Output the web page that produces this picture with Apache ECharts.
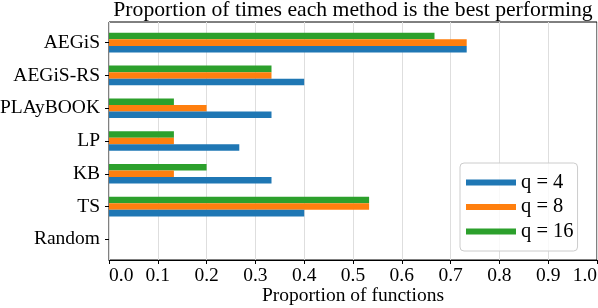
<!DOCTYPE html>
<html>
<head>
<meta charset="utf-8">
<script src="https://cdn.jsdelivr.net/npm/echarts@6/dist/echarts.min.js"></script>
<style>html,body{margin:0;padding:0;background:#fff}#c{width:598px;height:308px}</style>
</head>
<body>
<div id="c"></div>
<script>
const categories = ['AEGiS', 'AEGiS-RS', 'PLAyBOOK', 'LP', 'KB', 'TS', 'Random'];
const q4 = [0.733, 0.4, 0.333, 0.267, 0.333, 0.4, 0];
const q8 = [0.733, 0.333, 0.2, 0.133, 0.133, 0.533, 0];
const q16 = [0.667, 0.333, 0.133, 0.133, 0.2, 0.533, 0];
const seriesNames = ['q = 4', 'q = 8', 'q = 16'];
const xTicks = [0, 0.1, 0.2, 0.3, 0.4, 0.5, 0.6, 0.7, 0.8, 0.9, 1.0];

const FONT = '"Liberation Serif", "DejaVu Serif", serif';
const colors = ['#1f77b4', '#ff7f0e', '#2ca02c'];
const chart = echarts.init(document.getElementById('c'), null, {renderer: 'canvas'});

const L = 109, T = 22, W = 488, H = 238;
const band = H / 7.26;
const innerH = band * 7;
const innerT = T + (H - innerH) / 2;

const allData = [q4, q8, q16];
// draw order top-to-bottom inside each group: q16, q8, q4
const drawOrder = [2, 1, 0];

chart.setOption({
  animation: false,
  backgroundColor: '#fff',
  title: {
    text: 'Proportion of times each method is the best performing',
    left: L + W / 2, top: 0, padding: 0, textAlign: 'center',
    textStyle: {fontFamily: FONT, fontSize: 21.7, fontWeight: 'normal', color: '#000', lineHeight: 20}
  },
  legend: {
    data: seriesNames,
    orient: 'vertical',
    left: 460, top: 163,
    icon: 'rect', itemWidth: 50, itemHeight: 6, itemGap: 3.5,
    padding: [9, 4, 9, 6],
    backgroundColor: 'rgba(255,255,255,0.8)',
    borderColor: '#cccccc', borderWidth: 1, borderRadius: 4,
    textStyle: {fontFamily: FONT, fontSize: 20.5, color: '#000', lineHeight: 20}
  },
  grid: [
    {left: L, top: T, width: W, height: H, show: true, borderColor: '#000', borderWidth: 1, backgroundColor: 'transparent', containLabel: false, outerBoundsMode: 'none'},
    {left: L, top: innerT, width: W, height: innerH, containLabel: false, outerBoundsMode: 'none'}
  ],
  xAxis: [
    {
      gridIndex: 0, type: 'value', min: 0, max: 1, interval: 0.1,
      axisLine: {show: true, lineStyle: {color: '#000', width: 1}},
      axisTick: {show: true, length: 4, lineStyle: {color: '#000'}},
      axisLabel: {
        show: true, margin: 6, color: '#000', fontFamily: FONT, fontSize: 19.5,
        formatter: v => { const t = xTicks.find(x => Math.abs(x - v) < 1e-9); return (t === undefined ? v : t).toFixed(1); },
        alignMinLabel: 'left', alignMaxLabel: 'right'
      },
      splitLine: {show: true, lineStyle: {color: '#dedede', width: 1}},
      name: 'Proportion of functions', nameLocation: 'middle', nameGap: 26, nameMoveOverlap: false,
      nameTextStyle: {fontFamily: FONT, fontSize: 19.5, color: '#000'}
    },
    {
      gridIndex: 1, type: 'value', min: 0, max: 1,
      show: false
    }
  ],
  yAxis: [
    {gridIndex: 0, type: 'value', min: 0, max: 1, show: false},
    {
      gridIndex: 1, type: 'category', data: categories, inverse: true,
      axisLine: {show: false},
      axisTick: {show: true, alignWithLabel: true, length: 4, lineStyle: {color: '#000'}},
      axisLabel: {margin: 9, color: '#000', fontFamily: FONT, fontSize: 19.5},
      splitLine: {show: false}
    }
  ],
  series: drawOrder.map(i => ({
    name: seriesNames[i], type: 'bar', xAxisIndex: 1, yAxisIndex: 1,
    data: allData[i], barWidth: '20%', barGap: '0%',
    itemStyle: {color: colors[i]}
  }))
});
</script>
</body>
</html>
